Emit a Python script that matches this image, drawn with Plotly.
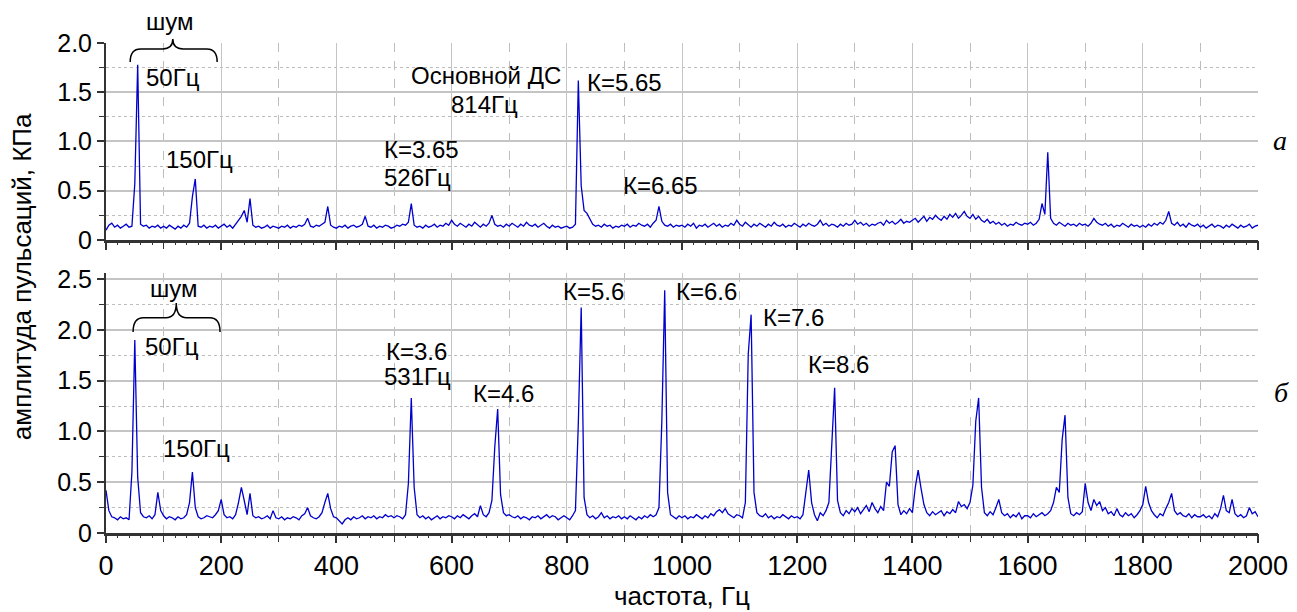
import numpy as np
import plotly.graph_objects as go

# ---------------- data ----------------
freq_step = 5
freq = np.arange(0, 2001, freq_step)  # Hz

# panel "а": amplitude, kPa (rows of 100 Hz)
amp_a = [
    0.10, 0.15, 0.17, 0.13, 0.15, 0.12, 0.14, 0.16, 0.13, 0.14, 0.57, 1.78, 0.16, 0.14, 0.15, 0.12, 0.14, 0.13, 0.15, 0.12,
    0.14, 0.12, 0.15, 0.13, 0.11, 0.14, 0.12, 0.15, 0.13, 0.17, 0.44, 0.62, 0.14, 0.13, 0.15, 0.12, 0.14, 0.13, 0.15, 0.12,
    0.14, 0.16, 0.13, 0.15, 0.12, 0.16, 0.20, 0.24, 0.30, 0.18, 0.42, 0.15, 0.13, 0.14, 0.12, 0.13, 0.15, 0.12, 0.14, 0.13,
    0.12, 0.14, 0.13, 0.15, 0.12, 0.14, 0.13, 0.15, 0.14, 0.16, 0.22, 0.14, 0.13, 0.15, 0.14, 0.16, 0.18, 0.34, 0.15, 0.13,
    0.12, 0.14, 0.13, 0.15, 0.12, 0.14, 0.15, 0.13, 0.14, 0.16, 0.24, 0.14, 0.13, 0.15, 0.12, 0.14, 0.13, 0.15, 0.14, 0.12,
    0.13, 0.15, 0.14, 0.16, 0.15, 0.18, 0.37, 0.15, 0.13, 0.14, 0.12, 0.15, 0.13, 0.14, 0.16, 0.13, 0.15, 0.14, 0.17, 0.15,
    0.20, 0.16, 0.14, 0.17, 0.15, 0.13, 0.16, 0.14, 0.18, 0.15, 0.13, 0.16, 0.14, 0.17, 0.25, 0.16, 0.14, 0.15, 0.13, 0.16,
    0.14, 0.17, 0.15, 0.13, 0.16, 0.14, 0.18, 0.15, 0.14, 0.16, 0.13, 0.15, 0.17, 0.14, 0.12, 0.15, 0.13, 0.14, 0.12, 0.13,
    0.14, 0.12, 0.13, 0.16, 1.62, 0.55, 0.30, 0.27, 0.22, 0.16, 0.14, 0.15, 0.13, 0.16, 0.14, 0.15, 0.12, 0.14, 0.13, 0.15,
    0.14, 0.16, 0.13, 0.15, 0.14, 0.17, 0.15, 0.14, 0.16, 0.13, 0.17, 0.20, 0.34, 0.19, 0.15, 0.14, 0.16, 0.13, 0.15, 0.14,
    0.15, 0.13, 0.16, 0.14, 0.17, 0.12, 0.15, 0.14, 0.16, 0.13, 0.15, 0.17, 0.14, 0.16, 0.13, 0.15, 0.14, 0.17, 0.15, 0.20,
    0.16, 0.14, 0.18, 0.15, 0.13, 0.16, 0.14, 0.17, 0.15, 0.13, 0.16, 0.14, 0.18, 0.15, 0.14, 0.16, 0.13, 0.15, 0.14, 0.17,
    0.15, 0.13, 0.16, 0.14, 0.17, 0.15, 0.14, 0.16, 0.20, 0.15, 0.17, 0.14, 0.16, 0.15, 0.13, 0.16, 0.14, 0.17, 0.15, 0.16,
    0.20, 0.16, 0.18, 0.15, 0.17, 0.14, 0.16, 0.15, 0.17, 0.18, 0.15, 0.20, 0.17, 0.19, 0.16, 0.18, 0.21, 0.17, 0.19, 0.18,
    0.20, 0.22, 0.18, 0.21, 0.24, 0.19, 0.23, 0.21, 0.25, 0.22, 0.20, 0.24, 0.21, 0.26, 0.23, 0.27, 0.22, 0.25, 0.29, 0.24,
    0.22, 0.26, 0.21, 0.24, 0.20, 0.18, 0.21, 0.17, 0.19, 0.16, 0.18, 0.15, 0.17, 0.14, 0.16, 0.15, 0.18, 0.16, 0.15, 0.17,
    0.16, 0.18, 0.15, 0.17, 0.21, 0.37, 0.26, 0.89, 0.22, 0.17, 0.15, 0.18, 0.16, 0.14, 0.17, 0.15, 0.16, 0.14, 0.17, 0.15,
    0.16, 0.14, 0.17, 0.22, 0.18, 0.16, 0.15, 0.17, 0.14, 0.16, 0.13, 0.15, 0.14, 0.17, 0.15, 0.13, 0.16, 0.14, 0.15, 0.13,
    0.15, 0.13, 0.16, 0.14, 0.17, 0.15, 0.18, 0.16, 0.20, 0.29, 0.17, 0.15, 0.18, 0.14, 0.16, 0.13, 0.17, 0.15, 0.14, 0.16,
    0.13, 0.15, 0.12, 0.14, 0.16, 0.13, 0.15, 0.14, 0.12, 0.15, 0.13, 0.16, 0.14, 0.12, 0.15, 0.13, 0.14, 0.16, 0.12, 0.14,
    0.15,
]

# panel "б": amplitude, kPa (rows of 100 Hz)
amp_b = [
    0.42, 0.22, 0.16, 0.15, 0.13, 0.16, 0.14, 0.15, 0.13, 0.60, 1.90, 0.55, 0.20, 0.16, 0.15, 0.17, 0.14, 0.18, 0.40, 0.22,
    0.17, 0.14, 0.16, 0.15, 0.13, 0.16, 0.14, 0.15, 0.18, 0.30, 0.60, 0.25, 0.16, 0.14, 0.15, 0.17, 0.16, 0.15, 0.18, 0.22,
    0.33, 0.18, 0.15, 0.16, 0.14, 0.18, 0.30, 0.45, 0.32, 0.18, 0.39, 0.17, 0.15, 0.16, 0.14, 0.15, 0.17, 0.14, 0.22, 0.15,
    0.14, 0.16, 0.13, 0.15, 0.14, 0.16, 0.15, 0.13, 0.17, 0.19, 0.25, 0.17, 0.15, 0.14, 0.16, 0.20, 0.30, 0.39, 0.24, 0.16,
    0.15, 0.12, 0.09, 0.13, 0.15, 0.13, 0.16, 0.14, 0.15, 0.17, 0.14, 0.16, 0.15, 0.17, 0.14, 0.16, 0.15, 0.18, 0.16, 0.17,
    0.15, 0.17, 0.16, 0.14, 0.18, 0.49, 1.33, 0.45, 0.18, 0.15, 0.17, 0.14, 0.16, 0.13, 0.15, 0.17, 0.14, 0.16, 0.15, 0.17,
    0.16, 0.14, 0.17, 0.15, 0.18, 0.16, 0.14, 0.17, 0.19, 0.16, 0.27, 0.18, 0.16, 0.20, 0.32, 0.85, 1.22, 0.38, 0.20, 0.17,
    0.18, 0.16, 0.15, 0.17, 0.14, 0.16, 0.15, 0.13, 0.16, 0.15, 0.17, 0.14, 0.16, 0.18, 0.15, 0.17, 0.16, 0.13, 0.15, 0.17,
    0.15, 0.13, 0.17, 0.22, 1.08, 2.22, 0.35, 0.18, 0.15, 0.17, 0.14, 0.16, 0.20, 0.15, 0.17, 0.14, 0.16, 0.15, 0.17, 0.14,
    0.16, 0.14, 0.17, 0.15, 0.13, 0.16, 0.14, 0.17, 0.15, 0.18, 0.16, 0.18, 0.25, 1.10, 2.39, 0.40, 0.18, 0.16, 0.14, 0.17,
    0.15, 0.17, 0.14, 0.16, 0.15, 0.18, 0.16, 0.14, 0.17, 0.15, 0.19, 0.17, 0.21, 0.23, 0.20, 0.24, 0.19, 0.17, 0.15, 0.18,
    0.17, 0.15, 0.30, 1.76, 2.15, 0.40, 0.20, 0.17, 0.16, 0.19, 0.15, 0.17, 0.14, 0.16, 0.15, 0.18, 0.16, 0.14, 0.17, 0.15,
    0.16, 0.14, 0.18, 0.41, 0.62, 0.30, 0.18, 0.12, 0.20, 0.17, 0.22, 0.30, 0.81, 1.43, 0.32, 0.20, 0.17, 0.22, 0.19, 0.24,
    0.21, 0.25, 0.19, 0.23, 0.27, 0.21, 0.30, 0.24, 0.20, 0.26, 0.22, 0.50, 0.46, 0.80, 0.86, 0.28, 0.18, 0.22, 0.19, 0.24,
    0.20, 0.45, 0.62, 0.44, 0.28, 0.20, 0.17, 0.21, 0.18, 0.20, 0.22, 0.17, 0.21, 0.19, 0.23, 0.20, 0.31, 0.26, 0.28, 0.24,
    0.30, 0.47, 1.10, 1.33, 0.45, 0.20, 0.17, 0.21, 0.18, 0.25, 0.33, 0.20, 0.17, 0.19, 0.15, 0.18, 0.16, 0.20, 0.14, 0.17,
    0.17, 0.15, 0.19, 0.16, 0.18, 0.20, 0.17, 0.19, 0.22, 0.30, 0.45, 0.40, 0.92, 1.16, 0.35, 0.19, 0.17, 0.20, 0.18, 0.21,
    0.49, 0.30, 0.22, 0.33, 0.27, 0.31, 0.22, 0.25, 0.19, 0.21, 0.17, 0.24, 0.18, 0.16, 0.20, 0.17, 0.19, 0.15, 0.18, 0.22,
    0.28, 0.46, 0.30, 0.22, 0.18, 0.15, 0.19, 0.17, 0.24, 0.30, 0.39, 0.22, 0.18, 0.20, 0.17, 0.16, 0.19, 0.15, 0.18, 0.16,
    0.16, 0.18, 0.15, 0.17, 0.14, 0.19, 0.16, 0.24, 0.37, 0.22, 0.20, 0.33, 0.19, 0.16, 0.18, 0.15, 0.17, 0.25, 0.19, 0.21,
    0.16,
]

ytick_a = [0, 0.5, 1.0, 1.5, 2.0]
ytick_a_text = ["0", "0.5", "1.0", "1.5", "2.0"]
ytick_b = [0, 0.5, 1.0, 1.5, 2.0, 2.5]
ytick_b_text = ["0", "0.5", "1.0", "1.5", "2.0", "2.5"]
xtick_vals = list(range(0, 2001, 200))
xtick_text = [str(v) for v in xtick_vals]

labels_a = [  # (text, freq, amplitude, xanchor)
    ("50Гц", 117, 1.645, "center"),
    ("150Гц", 163, 0.82, "center"),
    ("Основной ДС", 659, 1.665, "center"),
    ("814Гц", 657, 1.38, "center"),
    ("К=5.65", 901, 1.60, "center"),
    ("К=3.65", 480, 0.914, "left"),
    ("526Гц", 480, 0.63, "left"),
    ("К=6.65", 963, 0.55, "center"),
]
labels_b = [
    ("50Гц", 115, 1.84, "center"),
    ("150Гц", 157, 0.83, "center"),
    ("К=3.6", 482, 1.79, "left"),
    ("531Гц", 480, 1.54, "left"),
    ("К=4.6", 690, 1.37, "center"),
    ("К=5.6", 847, 2.38, "center"),
    ("К=6.6", 1042, 2.38, "center"),
    ("К=7.6", 1193, 2.12, "center"),
    ("К=8.6", 1271, 1.66, "center"),
]

# ---------------- layout geometry ----------------
XR = [0, 2000]
YR_A = [0, 2.0]
YR_B = [0, 2.56]
DOM_A = [0.598, 1.0]
DOM_B = [0.0, 0.5306]

def px_x(f):
    return (f - XR[0]) / (XR[1] - XR[0])

def py_a(v):
    return DOM_A[0] + (v - YR_A[0]) / (YR_A[1] - YR_A[0]) * (DOM_A[1] - DOM_A[0])

def py_b(v):
    return DOM_B[0] + (v - YR_B[0]) / (YR_B[1] - YR_B[0]) * (DOM_B[1] - DOM_B[0])

def brace(f0, f1, fm, y_end, y_mid, y_tip, d=0.009):
    x0, x1, xm = px_x(f0), px_x(f1), px_x(fm)
    return (f"M {x0},{y_end} Q {x0},{y_mid} {x0 + d},{y_mid} "
            f"L {xm - d},{y_mid} Q {xm},{y_mid} {xm},{y_tip} "
            f"Q {xm},{y_mid} {xm + d},{y_mid} "
            f"L {x1 - d},{y_mid} Q {x1},{y_mid} {x1},{y_end}")

LINE = "#0000cc"
GRID = "#c4c4c4"
MINOR_GRID = "#bdbdbd"
AXIS = "#333333"
FONT = "Liberation Sans, Arial, sans-serif"
ANN_SIZE = 24

fig = go.Figure()
fig.add_trace(go.Scatter(x=freq, y=amp_a, mode="lines", line=dict(color=LINE, width=1.3),
                         xaxis="x", yaxis="y", showlegend=False))
fig.add_trace(go.Scatter(x=freq, y=amp_b, mode="lines", line=dict(color=LINE, width=1.3),
                         xaxis="x2", yaxis="y2", showlegend=False))
# transparent copies carry the fine (20 Hz) tick axes
fig.add_trace(go.Scatter(x=freq, y=amp_a, mode="lines", line=dict(width=0), opacity=0,
                         hoverinfo="skip", xaxis="x3", yaxis="y", showlegend=False))
fig.add_trace(go.Scatter(x=freq, y=amp_b, mode="lines", line=dict(width=0), opacity=0,
                         hoverinfo="skip", xaxis="x4", yaxis="y2", showlegend=False))

def xaxis_common(anchor, labels):
    return dict(
        domain=[0, 1], anchor=anchor, range=XR, tickvals=xtick_vals, ticktext=xtick_text,
        showticklabels=labels, tickfont=dict(size=27, color="black", family=FONT),
        showgrid=True, gridcolor=GRID, gridwidth=1.2, automargin=False,
        ticks="outside", ticklen=7, tickwidth=1.5, tickcolor=AXIS,
        showline=True, linecolor=AXIS, linewidth=3, zeroline=False,
        minor=dict(dtick=100, showgrid=True, griddash="dash", gridcolor=MINOR_GRID, gridwidth=1,
                   ticks="outside", ticklen=6, tickwidth=1.2, tickcolor=AXIS),
    )

def xaxis_fine(overlay, anchor):
    return dict(overlaying=overlay, anchor=anchor, range=XR, dtick=20, tick0=0, automargin=False,
                ticks="outside", ticklen=4, tickwidth=1, tickcolor=AXIS,
                showticklabels=False, showgrid=False, showline=False, zeroline=False)

def yaxis_common(dom, rng, tv, tt, anchor):
    return dict(
        domain=dom, anchor=anchor, range=rng, tickvals=tv, ticktext=tt,
        tickfont=dict(size=25, color="black", family=FONT), automargin=False,
        showgrid=True, gridcolor=GRID, gridwidth=1.5,
        ticks="outside", ticklen=7, tickwidth=1.5, tickcolor=AXIS,
        showline=True, linecolor=AXIS, linewidth=2, zeroline=False,
        minor=dict(dtick=0.25, tick0=0, showgrid=True, griddash="dot", gridcolor=MINOR_GRID, gridwidth=1.2,
                   ticks="outside", ticklen=5, tickwidth=1.2, tickcolor=AXIS),
    )

def ann(x, y, text, size=ANN_SIZE, xa="center", family=FONT, angle=0):
    return dict(x=x, y=y, xref="paper", yref="paper", text=text, showarrow=False,
                xanchor=xa, yanchor="middle", textangle=angle,
                font=dict(size=size, color="black", family=family))

annotations = []
for text, f, v, xa in labels_a:
    annotations.append(ann(px_x(f), py_a(v), text, xa=xa))
for text, f, v, xa in labels_b:
    annotations.append(ann(px_x(f), py_b(v), text, xa=xa))
# "шум" labels above braces
annotations.append(ann(px_x(111), py_a(2.22), "шум"))
annotations.append(ann(px_x(118), py_b(2.41), "шум"))
# panel letters
annotations.append(ann(1.019, 0.802, "<i>а</i>", size=28, family="Liberation Serif, serif"))
annotations.append(ann(1.020, 0.286, "<i>б</i>", size=28, family="Liberation Serif, serif"))
# axis titles
annotations.append(ann(-0.073, 0.524, "амплитуда пульсаций, КПа", size=26, angle=-90))
annotations.append(ann(0.5, -0.1286, "частота, Гц", size=26))

shapes = [
    dict(type="path", xref="paper", yref="paper",
         path=brace(42, 193, 116, py_a(1.807), py_a(1.94), py_a(2.04)),
         line=dict(color="black", width=1.5)),
    dict(type="path", xref="paper", yref="paper",
         path=brace(47, 198, 122, py_b(1.98), py_b(2.12), py_b(2.265)),
         line=dict(color="black", width=1.5)),
]

# the page has an 8 px body margin on the left/top
fig.update_layout(
    width=1289, height=604,
    margin=dict(l=98, r=39, t=35, b=79),
    paper_bgcolor="white", plot_bgcolor="white",
    xaxis=xaxis_common("y", False),
    xaxis2=xaxis_common("y2", True),
    xaxis3=xaxis_fine("x", "y"),
    xaxis4=xaxis_fine("x2", "y2"),
    yaxis=yaxis_common(DOM_A, YR_A, ytick_a, ytick_a_text, "x"),
    yaxis2=yaxis_common(DOM_B, YR_B, ytick_b, ytick_b_text, "x2"),
    annotations=annotations,
    shapes=shapes,
    font=dict(family=FONT, color="black"),
)

fig.write_html("out.html")
